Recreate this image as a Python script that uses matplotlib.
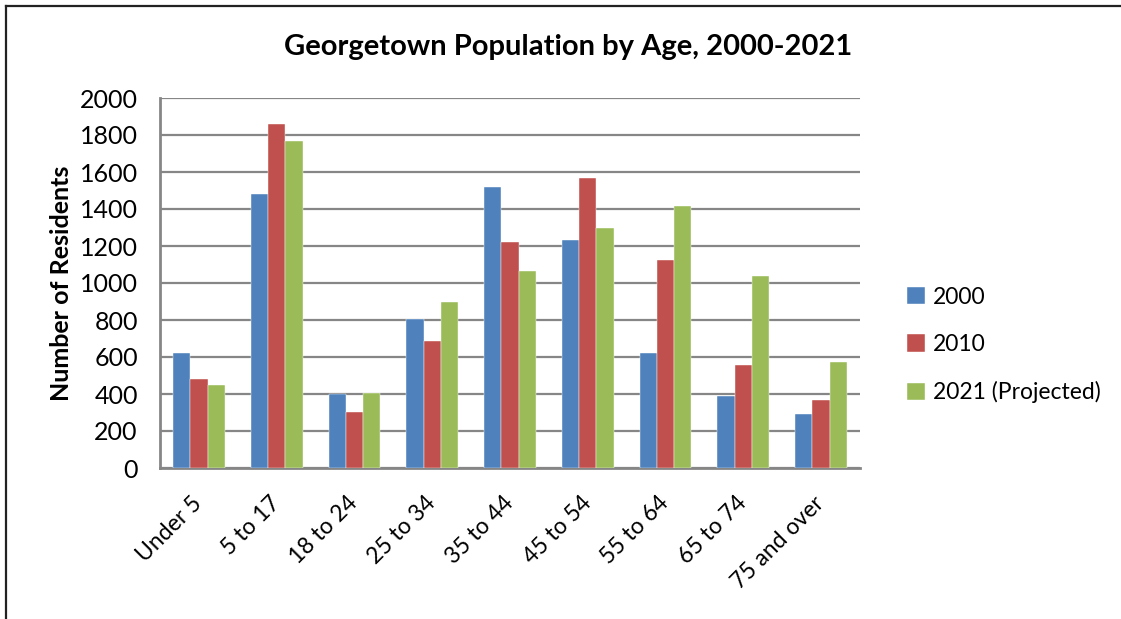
import matplotlib.pyplot as plt
from matplotlib.lines import Line2D
import numpy as np

plt.rcParams['font.family'] = ['Lato', 'DejaVu Sans']

age_groups = ['Under 5', '5 to 17', '18 to 24', '25 to 34', '35 to 44',
              '45 to 54', '55 to 64', '65 to 74', '75 and over']
pop_2000 = [620, 1480, 400, 805, 1520, 1235, 620, 390, 290]
pop_2010 = [480, 1860, 305, 685, 1220, 1570, 1125, 555, 365]
pop_2021 = [450, 1765, 405, 900, 1065, 1300, 1415, 1040, 575]
series_names = ['2000', '2010', '2021 (Projected)']
colors = ['#4F81BD', '#C0504D', '#9BBB59']

W, H = 1121, 619
fig = plt.figure(figsize=(W / 100, H / 100), dpi=100)
ax = fig.add_axes([160 / W, 1 - 468 / H, 700 / W, 370 / H])

x = np.arange(len(age_groups))
bw = 0.222
for i, (vals, name, c) in enumerate(zip([pop_2000, pop_2010, pop_2021], series_names, colors)):
    ax.bar(x + (i - 1) * bw, vals, width=bw, color=c, label=name, zorder=3,
           edgecolor='white', linewidth=0.3)

ax.set_xlim(-0.5, len(age_groups) - 0.5)
ax.set_ylim(0, 2000)
ax.set_yticks(range(0, 2001, 200))
ax.yaxis.grid(True, color='#868686', linewidth=1.6, zorder=0)
for s in ['top', 'right']:
    ax.spines[s].set_visible(False)
for s in ['left', 'bottom']:
    ax.spines[s].set_color('#868686')
    ax.spines[s].set_linewidth(2)
ax.tick_params(axis='both', length=0)
ax.tick_params(axis='y', pad=16, labelsize=18)
ax.set_xticks(x)
ax.set_xticklabels(age_groups, rotation=45, ha='right', va='center',
                   rotation_mode='anchor')
ax.tick_params(axis='x', pad=23, labelsize=16.5)

ax.set_ylabel('Number of Residents', fontsize=18, fontweight='bold', labelpad=5)
fig.text(568 / W, 1 - 47 / H, 'Georgetown Population by Age, 2000-2021',
         ha='center', va='center', fontsize=21, fontweight='bold')

leg = ax.legend(loc='center left', bbox_to_anchor=(886 / W, 1 - 345 / H),
                bbox_transform=fig.transFigure, frameon=False, fontsize=16.5,
                handlelength=0.8, handleheight=0.8, handletextpad=0.35,
                labelspacing=1.15)

# outer border of the chart area
fig.add_artist(Line2D([5.5 / W, 1], [1 - 5.5 / H, 1 - 5.5 / H],
                      transform=fig.transFigure, color='#222222', linewidth=1.6))
fig.add_artist(Line2D([5.5 / W, 5.5 / W], [0, 1 - 5.5 / H],
                      transform=fig.transFigure, color='#222222', linewidth=1.6))

fig.savefig('out.png', dpi=100)
